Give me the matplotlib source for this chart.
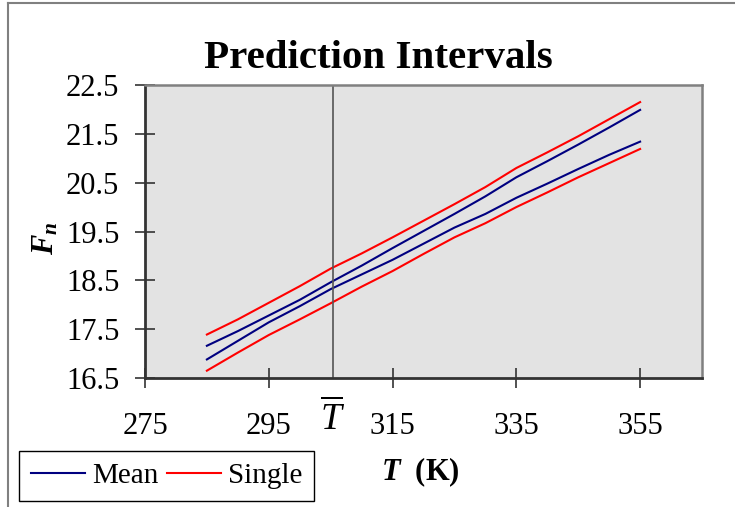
import matplotlib
matplotlib.use("Agg")
import matplotlib.pyplot as plt
from matplotlib.lines import Line2D

plt.rcParams['font.family'] = ['Liberation Serif', 'DejaVu Serif']
plt.rcParams['mathtext.fontset'] = 'custom'
plt.rcParams['mathtext.rm'] = 'Liberation Serif'
plt.rcParams['mathtext.it'] = 'Liberation Serif:italic'
plt.rcParams['mathtext.bf'] = 'Liberation Serif:bold:italic'

# values
T = [285, 290, 295, 300, 305, 310, 315, 320, 325, 330, 335, 340, 345, 350, 355]
mean_upper = [17.16, 17.46, 17.78, 18.10, 18.46, 18.80, 19.16, 19.51, 19.86, 20.22,
              20.61, 20.94, 21.28, 21.63, 21.99]
mean_lower = [16.88, 17.26, 17.64, 17.97, 18.32, 18.62, 18.92, 19.25, 19.58, 19.86,
              20.19, 20.48, 20.78, 21.07, 21.34]
single_upper = [17.39, 17.70, 18.04, 18.38, 18.74, 19.05, 19.38, 19.72, 20.06, 20.41,
                20.80, 21.12, 21.45, 21.80, 22.15]
single_lower = [16.65, 17.02, 17.38, 17.70, 18.03, 18.37, 18.69, 19.04, 19.38, 19.67,
                20.00, 20.30, 20.61, 20.90, 21.19]
t_bar = 305.3
x_ticks = [275, 295, 315, 335, 355]
y_ticks = [16.5, 17.5, 18.5, 19.5, 20.5, 21.5, 22.5]

fig = plt.figure(figsize=(7.35, 5.07), dpi=100)
ax = fig.add_axes([145/735, 1-378/507, 557/735, 293/507])
ax.set_facecolor('#e3e3e3')

ax.plot(T, mean_upper, color='#000080', lw=1.5, label='Mean')
ax.plot(T, mean_lower, color='#000080', lw=1.5)
ax.plot(T, single_upper, color='#ff0000', lw=1.5, label='Single')
ax.plot(T, single_lower, color='#ff0000', lw=1.5)
ax.axvline(t_bar, color='#555555', lw=1.2)

ax.set_xlim(275, 365)
ax.set_ylim(16.5, 22.5)
ax.set_xticks(x_ticks)
ax.set_yticks(y_ticks)
ax.set_yticklabels(['%.1f' % v for v in y_ticks])
ax.tick_params(direction='inout', length=15, width=1.2, color='#333333', labelsize=22)
ax.tick_params(axis='x', pad=17)
ax.tick_params(axis='y', pad=11)

for s in ['left', 'bottom']:
    ax.spines[s].set_color('#333333')
    ax.spines[s].set_linewidth(2)
for s in ['top', 'right']:
    ax.spines[s].set_color('#808080')
    ax.spines[s].set_linewidth(1.8)

ax.text(t_bar, -0.14, r'$\overline{T}$', transform=ax.get_xaxis_transform(),
        ha='center', va='center', fontsize=27)
ax.text(0.494, -0.32, r'$\mathbf{T}$  (K)', transform=ax.transAxes,
        ha='center', va='center', fontsize=22, fontweight='bold')
fig.text(46/735, 1-238/507, r'$\mathbf{F_n}$', rotation=90,
         ha='center', va='center', fontsize=22)

fig.text(378/735, 1-68/507, 'Prediction Intervals', ha='center', va='baseline',
         fontsize=29.5, fontweight='bold')

leg = fig.legend(loc='lower left', bbox_to_anchor=(19/735, 1-501/507), ncol=2,
                 fontsize=21, frameon=True, fancybox=False, framealpha=1,
                 edgecolor='black', handlelength=1.85, handletextpad=0.25,
                 columnspacing=0.3, borderpad=0.4, borderaxespad=0)
leg.get_frame().set_linewidth(1)

# chart area border (left and top visible)
fig.add_artist(Line2D([8/735, 8/735], [0, 1-3/507], color='#808080', lw=1.5,
                      transform=fig.transFigure))
fig.add_artist(Line2D([8/735, 1], [1-3/507, 1-3/507], color='#808080', lw=1.5,
                      transform=fig.transFigure))

fig.savefig('out.png', dpi=100)
